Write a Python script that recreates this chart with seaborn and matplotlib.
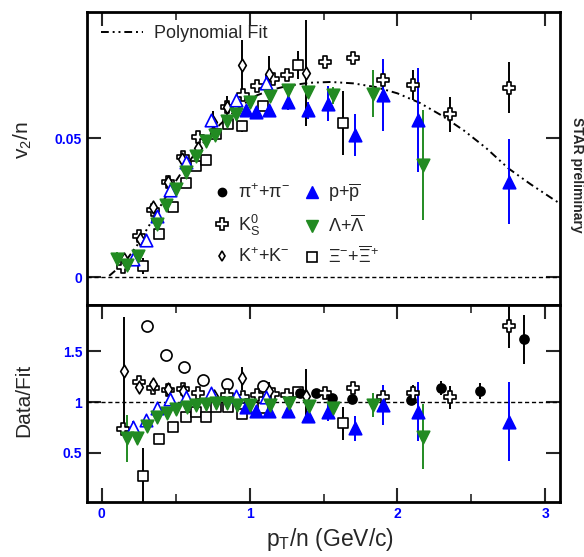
import matplotlib
matplotlib.use("Agg")
import matplotlib.pyplot as plt
from matplotlib.lines import Line2D
import seaborn as sns

### Data
# polynomial fit curve (v2/n vs pT/n)
fit_pt = [0.05, 0.15, 0.25, 0.35, 0.45, 0.55, 0.65, 0.75, 0.85, 0.95, 1.05, 1.15, 1.25,
          1.4, 1.55, 1.7, 1.85, 2.0, 2.15, 2.3, 2.45, 2.6, 2.75, 2.9, 3.05, 3.1]
fit_v2 = [0.0005, 0.005, 0.0123, 0.0213, 0.0305, 0.0386, 0.046, 0.0525, 0.0575, 0.062,
          0.0655, 0.0675, 0.0688, 0.0700, 0.0703, 0.0698, 0.0685, 0.0662, 0.0628, 0.0582,
          0.0528, 0.0465, 0.0392, 0.0335, 0.0282, 0.0265]

# K0s
k0s_pt = [0.146, 0.252, 0.349, 0.446, 0.552, 0.648, 0.85, 0.957, 1.051, 1.155, 1.254,
          1.509, 1.70, 1.903, 2.105, 2.353, 2.754]
k0s_v2 = [0.0037, 0.0149, 0.0241, 0.0341, 0.0431, 0.0505, 0.0613, 0.0655, 0.0687, 0.0715,
          0.0727, 0.0775, 0.0790, 0.0711, 0.0691, 0.0586, 0.0682]
k0s_err = [0.001, 0.0008, 0.0008, 0.0008, 0.0008, 0.0008, 0.0008, 0.0008, 0.0008, 0.0008,
           0.0008, 0.001, 0.0012, 0.004, 0.0054, 0.0063, 0.0092]
k0s_rat = [0.735, 1.20, 1.134, 1.118, 1.124, 1.09, 1.069, 1.052, 1.069, 1.078, 1.069,
           1.09, 1.134, 1.046, 1.085, 1.046, 1.745]
k0s_rerr = [0.05, 0.04, 0.03, 0.03, 0.02, 0.02, 0.02, 0.02, 0.02, 0.02, 0.02, 0.02, 0.03,
            0.06, 0.08, 0.11, 0.21]

# K+ + K-
kch_pt = [0.153, 0.259, 0.349, 0.45, 0.54, 0.653, 0.754, 0.85, 0.95, 1.131, 1.378]
kch_v2 = [0.0064, 0.0139, 0.0253, 0.0343, 0.0427, 0.0466, 0.0559, 0.0613, 0.0763, 0.0733, 0.0735]
kch_err = [0.001, 0.001, 0.001, 0.001, 0.001, 0.001, 0.004, 0.004, 0.009, 0.0063, 0.019]
kch_rpt = [0.153, 0.25, 0.349, 0.45, 0.552, 0.759, 0.95, 1.13, 1.38]
kch_rat = [1.304, 1.144, 1.176, 1.127, 1.11, 1.059, 1.232, 1.108, 1.06]
kch_rerr = [0.53, 0.06, 0.03, 0.03, 0.03, 0.05, 0.115, 0.09, 0.26]

# p + pbar (open: low pT, filled: high pT)
plo_pt = [0.214, 0.297, 0.376, 0.461, 0.57, 0.736, 0.905, 1.108]
plo_v2 = [0.0067, 0.0133, 0.0219, 0.0315, 0.0415, 0.0565, 0.0639, 0.0699]
plo_err = [0.0008, 0.0008, 0.0008, 0.0008, 0.0008, 0.001, 0.001, 0.003]
plo_rat = [0.758, 0.824, 0.938, 1.026, 1.046, 1.09, 1.059, 1.046]
plo_rerr = [0.06, 0.05, 0.03, 0.03, 0.03, 0.03, 0.03, 0.04]

phi_pt = [0.975, 1.043, 1.132, 1.261, 1.396, 1.531, 1.711, 1.903, 2.14, 2.754]
phi_v2 = [0.0601, 0.0595, 0.0603, 0.0631, 0.0601, 0.0625, 0.0511, 0.0655, 0.0565, 0.0343]
phi_err = [0.001, 0.001, 0.0015, 0.003, 0.003, 0.0063, 0.0075, 0.013, 0.0187, 0.0153]
phi_rat = [0.954, 0.915, 0.915, 0.915, 0.863, 0.905, 0.742, 0.97, 0.905, 0.807]
phi_rerr = [0.02, 0.02, 0.03, 0.05, 0.05, 0.09, 0.12, 0.2, 0.29, 0.39]

# Lambda + anti-Lambda
lam_pt = [0.101, 0.169, 0.247, 0.371, 0.434, 0.502, 0.57, 0.637, 0.705, 0.766, 0.845,
          0.905, 1.002, 1.137, 1.261, 1.396, 1.565, 1.835, 2.173]
lam_v2 = [0.0067, 0.0043, 0.0076, 0.0193, 0.0259, 0.0319, 0.0379, 0.0435, 0.049, 0.0511,
          0.0562, 0.0589, 0.0631, 0.0651, 0.0675, 0.0667, 0.0655, 0.0661, 0.0403]
lam_err = [0.0025, 0.0015, 0.001, 0.0008, 0.0008, 0.0008, 0.0008, 0.0008, 0.0008, 0.0008,
           0.0008, 0.0008, 0.001, 0.001, 0.0015, 0.002, 0.003, 0.0084, 0.0198]
lam_rpt = [0.169, 0.24, 0.308, 0.371, 0.439, 0.502, 0.574, 0.637, 0.705, 0.772, 0.845,
           0.912, 1.0, 1.137, 1.268, 1.403, 1.565, 1.835, 2.173]
lam_rat = [0.644, 0.644, 0.765, 0.856, 0.889, 0.928, 0.954, 0.97, 0.977, 0.987, 0.987,
           0.97, 0.97, 0.975, 0.987, 0.961, 0.938, 0.97, 0.66]
lam_rerr = [0.23, 0.06, 0.04, 0.03, 0.02, 0.02, 0.02, 0.02, 0.02, 0.02, 0.02, 0.02,
            0.02, 0.02, 0.03, 0.03, 0.05, 0.12, 0.32]

# Xi- + anti-Xi+
xi_pt = [0.277, 0.389, 0.484, 0.57, 0.637, 0.705, 0.772, 0.851, 0.946, 1.092, 1.329, 1.633]
xi_v2 = [0.004, 0.0157, 0.0253, 0.0339, 0.0399, 0.0423, 0.0514, 0.0553, 0.0543, 0.0615,
         0.0763, 0.0555]
xi_err = [0.003, 0.001, 0.001, 0.001, 0.001, 0.001, 0.001, 0.001, 0.002, 0.001, 0.005, 0.0114]
xi_rat = [0.277, 0.634, 0.758, 0.85, 0.9, 0.85, 0.954, 0.954, 0.88, 0.944, 1.1, 0.79]
xi_rerr = [0.27, 0.04, 0.02, 0.02, 0.02, 0.02, 0.02, 0.02, 0.03, 0.02, 0.05, 0.16]

# pions (ratio panel only)
pio_pt = [0.308, 0.434, 0.556, 0.682, 0.849, 1.088]
pio_rat = [1.745, 1.46, 1.34, 1.216, 1.176, 1.157]
pic_pt = [1.34, 1.45, 1.554, 1.693, 2.095, 2.297, 2.561, 2.853]
pic_rat = [1.09, 1.09, 1.036, 1.026, 1.02, 1.134, 1.108, 1.615]
pic_rerr = [0.03, 0.02, 0.02, 0.02, 0.03, 0.07, 0.08, 0.24]

legend_labels = [r"$\pi^{+}$+$\pi^{-}$", r"K$^{0}_{S}$", r"K$^{+}$+K$^{-}$",
                 r"p+$\overline{p}$", r"$\Lambda$+$\overline{\Lambda}$",
                 r"$\Xi^{-}$+$\overline{\Xi}^{+}$"]
top_yticks = [0, 0.05]
top_ylabels = ["0", "0.05"]
bot_yticks = [0.5, 1, 1.5]
bot_ylabels = ["0.5", "1", "1.5"]
xticks = [0, 1, 2, 3]
xlabels = ["0", "1", "2", "3"]

### Style
sns.set_style("white")
plt.rcParams['font.family'] = ['Liberation Sans', 'DejaVu Sans']
plt.rcParams['mathtext.fontset'] = 'custom'
plt.rcParams['mathtext.rm'] = 'Liberation Sans'
plt.rcParams['mathtext.it'] = 'Liberation Sans:italic'
plt.rcParams['mathtext.bf'] = 'Liberation Sans:bold'
plt.rcParams['mathtext.default'] = 'regular'

BLUE = "#0000ff"
GREEN = "#228b22"

fig = plt.figure(figsize=(5.84, 5.57), dpi=100)
ax1 = fig.add_axes([0.149, 0.452, 0.81, 0.526])
ax2 = fig.add_axes([0.149, 0.099, 0.81, 0.353])


def draw(ax, x, y, err, marker, face, edge, ms, ecol, lw=1.2):
    ax.errorbar(x, y, yerr=err, fmt='none', ecolor=ecol, elinewidth=1.4, capsize=0, zorder=2)
    sns.scatterplot(x=x, y=y, marker=marker, s=ms ** 2, color=face, edgecolor=edge,
                    linewidth=lw, ax=ax, zorder=3, legend=False)


# top panel
ax1.axhline(0, color='black', lw=1, ls=(0, (3, 2)), zorder=1)
sns.lineplot(x=fit_pt, y=fit_v2, ax=ax1, color='black', lw=1.4,
             linestyle=(0, (4, 2, 1, 2, 1, 2)), zorder=1)
draw(ax1, xi_pt, xi_v2, xi_err, 's', 'white', 'black', 7.5, 'black')
draw(ax1, k0s_pt, k0s_v2, k0s_err, 'P', 'white', 'black', 8.7, 'black')
draw(ax1, kch_pt, kch_v2, kch_err, 'd', 'white', 'black', 6.5, 'black')
draw(ax1, plo_pt, plo_v2, plo_err, '^', 'white', BLUE, 9, BLUE)
draw(ax1, phi_pt, phi_v2, phi_err, '^', BLUE, BLUE, 9, BLUE)
draw(ax1, lam_pt, lam_v2, lam_err, 'v', GREEN, GREEN, 9, GREEN)

# bottom panel
ax2.axhline(1, color='black', lw=1, ls=(0, (3, 2)), zorder=1)
draw(ax2, xi_pt, xi_rat, xi_rerr, 's', 'white', 'black', 7.5, 'black')
draw(ax2, pio_pt, pio_rat, [0] * len(pio_pt), 'o', 'white', 'black', 8, 'black')
draw(ax2, pic_pt, pic_rat, pic_rerr, 'o', 'black', 'black', 6.5, 'black')
draw(ax2, k0s_pt, k0s_rat, k0s_rerr, 'P', 'white', 'black', 8.7, 'black')
draw(ax2, kch_rpt, kch_rat, kch_rerr, 'd', 'white', 'black', 6.5, 'black')
draw(ax2, plo_pt, plo_rat, plo_rerr, '^', 'white', BLUE, 9, BLUE)
draw(ax2, phi_pt, phi_rat, phi_rerr, '^', BLUE, BLUE, 9, BLUE)
draw(ax2, lam_rpt, lam_rat, lam_rerr, 'v', GREEN, GREEN, 9, GREEN)

# axes cosmetics
for ax in (ax1, ax2):
    ax.set_xlim(-0.1, 3.1)
    for s in ax.spines.values():
        s.set_linewidth(2)
        s.set_color('black')
    ax.set_xticks(xticks)
    ax.set_xticks([0.5, 1.5, 2.5], minor=True)
    ax.tick_params(which='major', direction='in', length=10, width=1.5,
                   top=True, bottom=True, left=True, right=True)
    ax.tick_params(which='minor', direction='in', length=6, width=1.2, top=True, bottom=True)
    ax.set_xlabel("")
    ax.set_ylabel("")

ax1.set_ylim(-0.0101, 0.0954)
ax1.set_yticks(top_yticks)
ax1.set_yticklabels(top_ylabels)
ax1.tick_params(axis='x', bottom=False, which='both', labelbottom=False)
ax2.set_ylim(0.02, 1.95)
ax2.set_yticks(bot_yticks)
ax2.set_yticklabels(bot_ylabels)
ax2.set_xticklabels(xlabels)

for ax in (ax1, ax2):
    for lab in ax.get_xticklabels() + ax.get_yticklabels():
        lab.set_color(BLUE)
        lab.set_fontweight('bold')
        lab.set_fontsize(10)

ax1.set_ylabel(r"v$_{2}$/n", fontsize=15)
ax1.yaxis.set_label_coords(-0.113, 0.563)
ax2.set_ylabel("Data/Fit", fontsize=15)
ax2.yaxis.set_label_coords(-0.113, 0.518)
ax2.set_xlabel(r"p$_{T}$/n (GeV/c)", fontsize=16.5)
ax2.xaxis.set_label_coords(0.514, -0.125)

fig.text(0.988, 0.686, "STAR preliminary", rotation=270, fontsize=10, fontweight='bold',
         ha='center', va='center')

# legends
fit_handle = Line2D([], [], color='black', lw=1.4, linestyle=(0, (4, 2, 1, 2, 1, 2)))
leg1 = ax1.legend([fit_handle], ["Polynomial Fit"], loc='center left',
                  bbox_to_anchor=(0.015, 0.928), frameon=False, fontsize=13,
                  handlelength=2.3, handletextpad=0.6, borderaxespad=0.0)
ax1.add_artist(leg1)

handles = [
    Line2D([], [], ls='none', marker='o', ms=6, mfc='black', mec='black'),
    Line2D([], [], ls='none', marker='P', ms=8, mfc='white', mec='black', mew=1.2),
    Line2D([], [], ls='none', marker='d', ms=5.5, mfc='white', mec='black', mew=1.2),
    Line2D([], [], ls='none', marker='^', ms=8, mfc=BLUE, mec=BLUE),
    Line2D([], [], ls='none', marker='v', ms=8, mfc=GREEN, mec=GREEN),
    Line2D([], [], ls='none', marker='s', ms=7, mfc='white', mec='black', mew=1.2),
]
ax1.legend(handles, legend_labels, ncol=2, loc='center left', bbox_to_anchor=(0.25, 0.275),
           frameon=False, fontsize=13, handlelength=1.0, handletextpad=0.4,
           columnspacing=0.7, labelspacing=0.56, borderaxespad=0.0)

fig.savefig("out.png", dpi=100)
